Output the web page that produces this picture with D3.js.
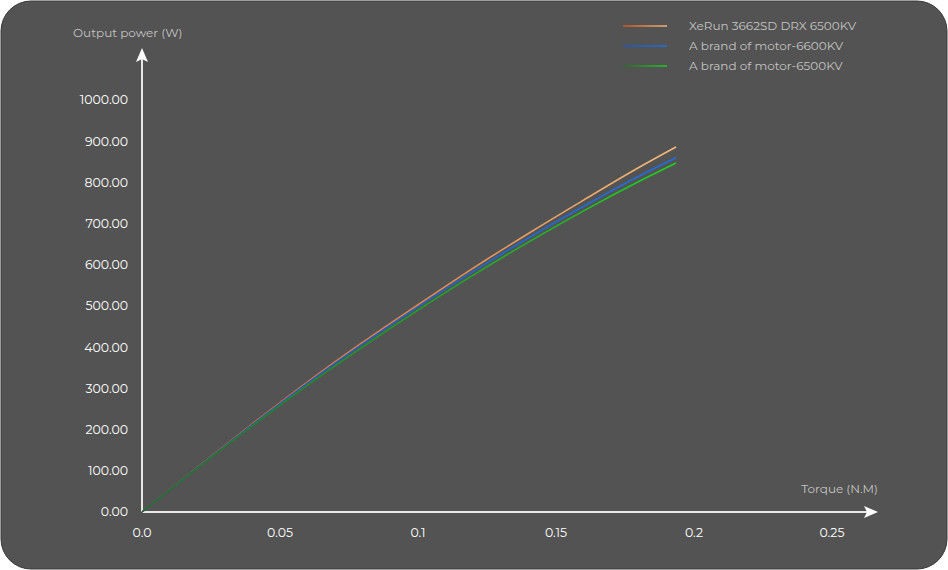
<!DOCTYPE html>
<html><head><meta charset="utf-8">
<script src="https://cdn.jsdelivr.net/npm/d3@7"></script>
<style>html,body{margin:0;padding:0;background:#fff;}svg{display:block;}</style>
</head><body>
<svg id="c" width="948" height="570"></svg>
<script>
const torque = [0, 0.02, 0.04, 0.06, 0.08, 0.10, 0.12, 0.14, 0.16, 0.18, 0.1935];
const xerun = [0, 108, 214, 316, 412, 503, 592, 676, 757, 836, 886];
const brand6600 = [0, 107, 212, 313, 408, 498, 584, 665, 742, 815, 860];
const brand6500 = [0, 106, 209, 308, 401, 490, 575, 655, 731, 802, 847];
const seriesNames = ["XeRun 3662SD DRX 6500KV", "A brand of motor-6600KV", "A brand of motor-6500KV"];
const xTicks = [0, 0.05, 0.1, 0.15, 0.2, 0.25];
const xTickLabels = ["0.0", "0.05", "0.1", "0.15", "0.2", "0.25"];
const yTicks = [0, 100, 200, 300, 400, 500, 600, 700, 800, 900, 1000];

const svg = d3.select("#c");
const font = "Montserrat, 'Open Sans', Lato, sans-serif";
svg.append("rect").attr("x", 1).attr("y", 1).attr("width", 946).attr("height", 568)
  .attr("rx", 30).attr("fill", "#535353").attr("stroke", "#3a3a3a").attr("stroke-width", 1);

const x = d3.scaleLinear().domain([0, 0.25]).range([142, 832]);
const y = d3.scaleLinear().domain([0, 1000]).range([512, 100]);

const defs = svg.append("defs");
const grads = [
  {id: "gO", from: "#d0541c", to: "#f0b87c"},
  {id: "gB", from: "#2058b0", to: "#2070e0"},
  {id: "gG", from: "#256b2a", to: "#1ed01e"}
];
grads.forEach(g => {
  const lg = defs.append("linearGradient").attr("id", g.id).attr("gradientUnits", "userSpaceOnUse")
    .attr("x1", x(0)).attr("y1", 0).attr("x2", x(0.1935)).attr("y2", 0);
  lg.append("stop").attr("offset", "0%").attr("stop-color", g.from);
  lg.append("stop").attr("offset", "100%").attr("stop-color", g.to);
  const lg2 = defs.append("linearGradient").attr("id", g.id + "L").attr("gradientUnits", "userSpaceOnUse")
    .attr("x1", 623).attr("y1", 0).attr("x2", 667).attr("y2", 0);
  lg2.append("stop").attr("offset", "0%").attr("stop-color", g.from);
  lg2.append("stop").attr("offset", "100%").attr("stop-color", g.to);
});

// axes lines
const axisColor = "#e8e8e8";
svg.append("line").attr("x1", x(0)).attr("x2", 868).attr("y1", y(0)).attr("y2", y(0))
  .attr("stroke", axisColor).attr("stroke-width", 2);
svg.append("line").attr("x1", x(0)).attr("x2", x(0)).attr("y1", y(0)).attr("y2", 58)
  .attr("stroke", axisColor).attr("stroke-width", 2);
svg.append("path").attr("d", `M878,${y(0)} L864,${y(0)-6} L867,${y(0)} L864,${y(0)+6} Z`).attr("fill", "#fff");
svg.append("path").attr("d", `M${x(0)},48 L${x(0)-6},62 L${x(0)},59 L${x(0)+6},62 Z`).attr("fill", "#fff");

// y tick labels
svg.append("g").selectAll("text").data(yTicks).join("text")
  .attr("x", 128).attr("y", d => y(d)).attr("dy", "0.35em").attr("text-anchor", "end")
  .attr("fill", "#ffffff").attr("font-family", font).attr("font-size", 12.5)
  .text(d => d3.format(".2f")(d));
// x tick labels
svg.append("g").selectAll("text").data(xTicks).join("text")
  .attr("x", d => x(d)).attr("y", 533).attr("dy", "0.35em").attr("text-anchor", "middle")
  .attr("fill", "#ffffff").attr("font-family", font).attr("font-size", 12.5)
  .text((d, i) => xTickLabels[i]);

svg.append("text").attr("x", 73).attr("y", 37).attr("fill", "#c4c4c4").attr("font-family", font)
  .attr("font-size", 12).text("Output power (W)");
svg.append("text").attr("x", 878).attr("y", 493).attr("text-anchor", "end").attr("fill", "#c4c4c4").attr("font-family", font)
  .attr("font-size", 12).text("Torque (N.M)");

const data = [xerun, brand6600, brand6500];
const line = d3.line().x((d, i) => x(torque[i])).y(d => y(d)).curve(d3.curveMonotoneX);
data.forEach((s, k) => {
  svg.append("path").datum(s).attr("d", line).attr("fill", "none")
    .attr("stroke", `url(#${grads[k].id})`).attr("stroke-width", 1.6);
});

// legend
seriesNames.forEach((n, k) => {
  const ly = 26 + k * 20;
  svg.append("line").attr("x1", 623).attr("x2", 667).attr("y1", ly).attr("y2", ly)
    .attr("stroke", `url(#${grads[k].id}L)`).attr("stroke-width", 1.6);
  svg.append("text").attr("x", 689).attr("y", ly).attr("dy", "0.35em").attr("fill", "#c4c4c4")
    .attr("font-family", font).attr("font-size", 12).text(n);
});
</script>
</body></html>
